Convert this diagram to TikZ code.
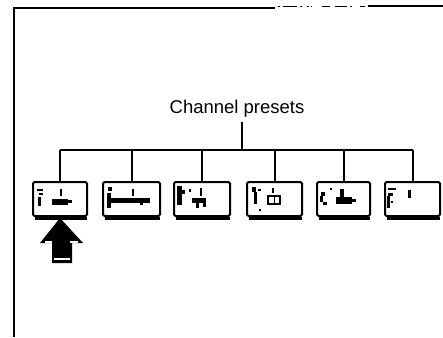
\documentclass[tikz,border=0pt]{standalone}
\usepackage{fontspec}
\setmainfont{Liberation Sans}
\begin{document}
\begin{tikzpicture}[x=1pt,y=-1pt,
  frameline/.style={line width=2.2pt,black},
  busline/.style={line width=2pt,black},
  presetbox/.style={draw,line width=2pt,rounded corners=1.5pt,minimum height=34pt,inner sep=0pt},
  glyphmark/.style={fill=black,draw=none},
  title/.style={font=\fontsize{18.5}{20}\selectfont,inner sep=0pt,anchor=base}]
\useasboundingbox (0,0) rectangle (443,337);
% frame
\draw[frameline] (14,337) -- (14,8) -- (275,8);
\draw[frameline] (368,6) -- (443,6);
\foreach \a/\b in {278/280,283/297,300/302,307/309,311/312,322/330,335/347,350/352,360/365}
  \draw[line width=1.8pt] (\a,6.5) -- (\b,6.5);
% title
\node[title] (title) at (237,113) {Channel presets};
% boxes
\node[presetbox,minimum width=54pt] (b1) at (60,199) {};
\node[presetbox,minimum width=57pt] (b2) at (131.5,199) {};
\node[presetbox,minimum width=56pt] (b3) at (202,199) {};
\node[presetbox,minimum width=55pt] (b4) at (274.5,199) {};
\node[presetbox,minimum width=53pt] (b5) at (343.5,199) {};
\node[presetbox,minimum width=55pt] (b6) at (412.5,199) {};
% shadows under boxes (thick bottom edge)
\foreach \n in {b1,b2,b3,b4,b5,b6}
  \draw[line width=2.4pt] ([xshift=3pt,yshift=-1.4pt]\n.south west) -- ([xshift=-1pt,yshift=-1.4pt]\n.south east);
% bus
\coordinate (busL) at (b1.north |- 0,150);
\coordinate (busR) at (b6.north |- 0,150);
\coordinate (busT) at (242,150);
\coordinate (titleS) at (242,122);
\draw[busline] (busL) -- (busR);
\draw[busline] (titleS) -- (busT);
\foreach \n in {b1,b2,b3,b4,b5,b6}
  \draw[busline] (\n.north |- busL) -- (\n.north);
% box contents (illegible glyph marks)
% b1
\fill[glyphmark] (37,189) rectangle (43,191);
\fill[glyphmark] (39,193) rectangle (43,195);
\fill[glyphmark] (38,197) rectangle (41,206);
\fill[glyphmark] (59.5,189) rectangle (61.5,196);
\fill[glyphmark] (52,199) rectangle (68,205);
\fill[glyphmark] (68,200) rectangle (72,203);
% b2
\fill[glyphmark] (108,187) rectangle (112,191);
\fill[glyphmark] (107,193) rectangle (111,208);
\fill[glyphmark] (111,198) rectangle (150,203);
\fill[glyphmark] (132,189) rectangle (134,196);
\fill[glyphmark] (140,203) rectangle (143,205);
% b3
\fill[glyphmark] (177,186) rectangle (182,205);
\fill[glyphmark] (182,190) rectangle (185,194);
\fill[glyphmark] (189,189) rectangle (191,192);
\fill[glyphmark] (200,188) rectangle (202,196);
\fill[glyphmark] (192,198) rectangle (206,203);
\fill[glyphmark] (196,203) rectangle (199,208);
\fill[glyphmark] (203,203) rectangle (206,207);
% b4
\fill[glyphmark] (252,187) rectangle (256,192);
\fill[glyphmark] (254,192) rectangle (257,204);
\fill[glyphmark] (258,189) rectangle (261,191);
\fill[glyphmark] (272,188) rectangle (274,193);
\draw[line width=1.5pt] (268,196) rectangle (280,204);
\draw[line width=1pt] (274,196) -- (274,204);
\fill[glyphmark] (259,209) rectangle (261,211);
% b5
\fill[glyphmark] (321,192) rectangle (325,196);
\fill[glyphmark] (320,196) rectangle (323,202);
\fill[glyphmark] (323,202) rectangle (327,205);
\fill[glyphmark] (330,188) rectangle (332,190);
\fill[glyphmark] (340,189) rectangle (344,197);
\fill[glyphmark] (336,197) rectangle (352,204);
\fill[glyphmark] (352,199) rectangle (356,202);
% b6
\fill[glyphmark] (388,188) rectangle (396,190);
\fill[glyphmark] (388,193) rectangle (393,196);
\fill[glyphmark] (387,196) rectangle (390,208);
\fill[glyphmark] (391,201) rectangle (393,203);
\fill[glyphmark] (408,190) rectangle (411,198);
% arrow
\fill (60,218) -- (83,243) -- (72,243) -- (72,263) -- (52,263) -- (52,243) -- (40,243) -- cycle;
\fill[white] (45,241) rectangle (52,242.5);
\fill[white] (70,241) rectangle (78,242.5);
\fill[white] (54,258) rectangle (70,260);
\end{tikzpicture}
\end{document}
